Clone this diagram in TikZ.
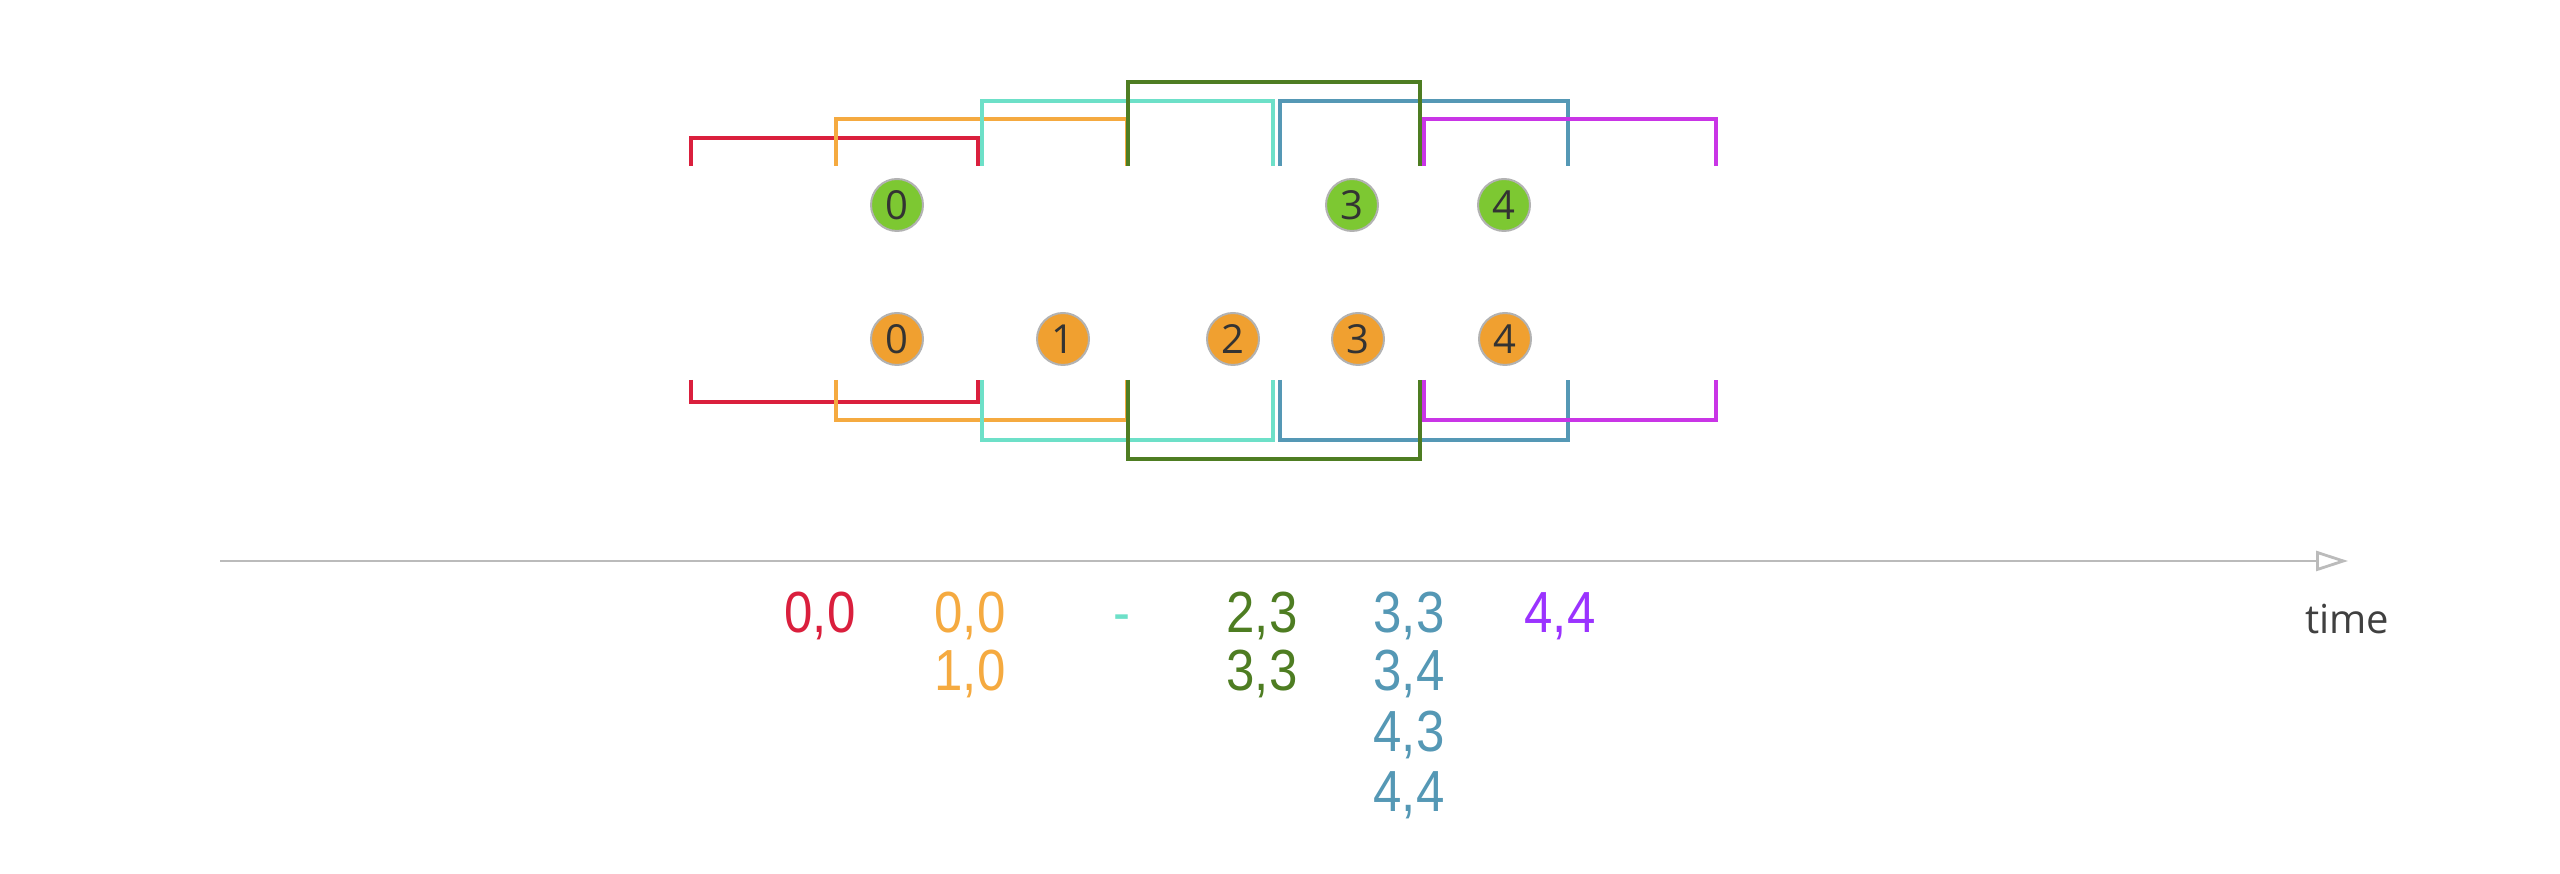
\documentclass[tikz,border=0pt]{standalone}
\usepackage{fontspec}
\setmainfont{Open Sans}
\newfontfamily\lblfont[FakeStretch=0.88]{Liberation Sans}
\usetikzlibrary{arrows.meta}
\definecolor{cred}{HTML}{DA1F3D}
\definecolor{corange}{HTML}{F5AA40}
\definecolor{ccyan}{HTML}{6DE0C8}
\definecolor{cgreen}{HTML}{4E7D22}
\definecolor{cblue}{HTML}{5598B5}
\definecolor{cmag}{HTML}{C935E6}
\definecolor{cviolet}{HTML}{9B33FF}
\definecolor{cfillg}{HTML}{7DC832}
\definecolor{cfillo}{HTML}{F0A030}
\definecolor{caxis}{HTML}{BBBBBB}
\tikzset{
  win/.style={line width=0.95pt, line join=miter},
  ball/.style={circle, draw=black!30, line width=0.5pt, minimum size=13pt, inner sep=0pt,
    text=black!80, font=\fontsize{10}{11}\selectfont},
  gball/.style={ball, fill=cfillg},
  oball/.style={ball, fill=cfillo},
  lbl/.style={font=\lblfont\fontsize{14.5}{16}\selectfont, inner sep=0pt, anchor=base},
}
\begin{document}
\begin{tikzpicture}[x=0.25pt, y=-0.25pt]
\useasboundingbox (0,0) rectangle (2560,874);
% top windows
\draw[win, cred]    (691,166) -- (691,138) -- (978,138) -- (978,166);
\draw[win, corange] (836,166) -- (836,119) -- (1127,119) -- (1127,166);
\draw[win, ccyan]   (982,166) -- (982,101) -- (1273,101) -- (1273,166);
\draw[win, cblue]   (1280,166) -- (1280,101) -- (1568,101) -- (1568,166);
\draw[win, cmag]    (1424,166) -- (1424,119) -- (1716,119) -- (1716,166);
\draw[win, cgreen]  (1128,166) -- (1128,82) -- (1420,82) -- (1420,166);
% bottom windows
\draw[win, cred]    (691,380) -- (691,402) -- (978,402) -- (978,380);
\draw[win, corange] (836,380) -- (836,420) -- (1127,420) -- (1127,380);
\draw[win, ccyan]   (982,380) -- (982,440) -- (1273,440) -- (1273,380);
\draw[win, cblue]   (1280,380) -- (1280,440) -- (1568,440) -- (1568,380);
\draw[win, cmag]    (1424,380) -- (1424,420) -- (1716,420) -- (1716,380);
\draw[win, cgreen]  (1128,380) -- (1128,459) -- (1420,459) -- (1420,380);
% balls
\node[gball] (g0) at (897,205) {0};
\node[gball] (g3) at (1352,205) {3};
\node[gball] (g4) at (1504,205) {4};
\node[oball] (o0) at (897,339) {0};
\node[oball] (o1) at (1063,339) {1};
\node[oball] (o2) at (1233,339) {2};
\node[oball] (o3) at (1358,339) {3};
\node[oball] (o4) at (1505,339) {4};
% axis
\coordinate (ax0) at (220,561);
\coordinate (ax1) at (2348,561);
\draw[caxis, line width=0.7pt, -{Triangle[open, length=8pt, width=5pt]}] (ax0) -- (ax1);
\node[text=black!75, font=\fontsize{10}{12}\selectfont] (time) at (2347,619) {time};
% labels
\node[lbl, text=cred] (r1) at (820,633) {0,0};
\node[lbl, text=corange] (y1) at (970,633) {0,0};
\node[lbl, text=corange] (y2) at (970,691) {1,0};
\node[lbl, text=ccyan] (c1) at (1122,633) {-};
\node[lbl, text=cgreen] (n1) at (1262,633) {2,3};
\node[lbl, text=cgreen] (n2) at (1262,691) {3,3};
\node[lbl, text=cblue] (b1) at (1409,633) {3,3};
\node[lbl, text=cblue] (b2) at (1409,691) {3,4};
\node[lbl, text=cblue] (b3) at (1409,752) {4,3};
\node[lbl, text=cblue] (b4) at (1409,812) {4,4};
\node[lbl, text=cviolet] (p1) at (1560,633) {4,4};
\end{tikzpicture}
\end{document}
